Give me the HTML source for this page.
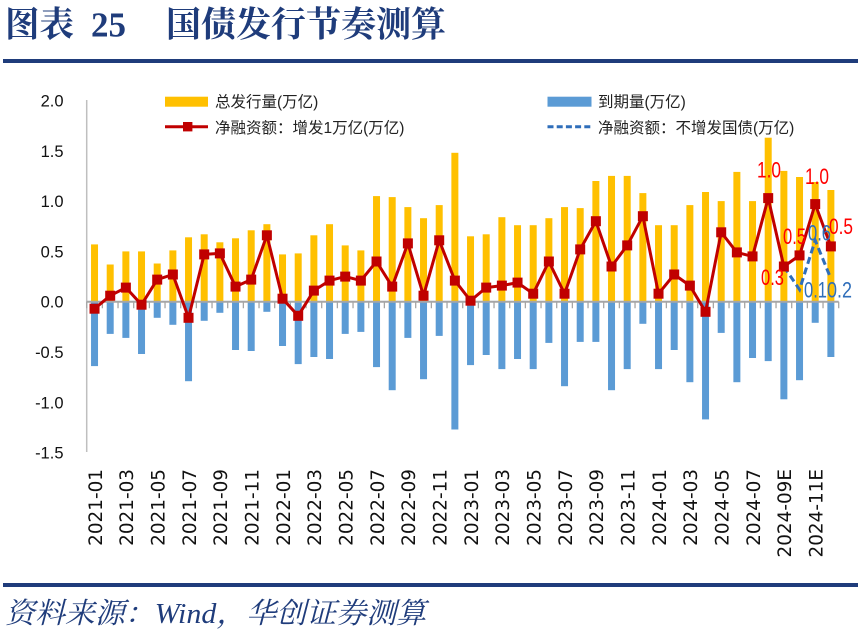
<!DOCTYPE html>
<html><head><meta charset="utf-8"><style>
html,body{margin:0;padding:0;background:#fff;}
svg{display:block;}
</style></head><body>
<svg width="867" height="643" viewBox="0 0 867 643" xmlns="http://www.w3.org/2000/svg">
<rect width="867" height="643" fill="#fff"/>
<!-- Title -->
<g fill="#1F3C7B" font-weight="bold">
<text x="5" y="36.5" font-size="35" font-family="'Noto Serif CJK SC', serif" textLength="69" lengthAdjust="spacingAndGlyphs">图表</text>
<text x="91" y="36.5" font-size="35" font-family="'Liberation Serif', serif">25</text>
<text x="166" y="36.5" font-size="35" font-family="'Noto Serif CJK SC', serif" textLength="280" lengthAdjust="spacingAndGlyphs">国债发行节奏测算</text>
</g>
<rect x="3" y="59" width="855" height="4" fill="#1F3C7B"/>
<rect x="3" y="583" width="855" height="4" fill="#1F3C7B"/>
<text x="5" y="623" font-size="29" font-style="italic" fill="#1F3C7B" font-family="'Liberation Serif', 'Noto Serif CJK SC', serif" textLength="421" lengthAdjust="spacingAndGlyphs">资料来源：Wind，华创证券测算</text>

<!-- Legend -->
<rect x="165" y="96.7" width="43" height="10" fill="#FFC000"/>
<text x="215" y="107" font-size="15.5" fill="#222" font-family="'Liberation Sans','Noto Sans CJK SC',sans-serif">总发行量(万亿)</text>
<line x1="165" y1="126.7" x2="208" y2="126.7" stroke="#C00000" stroke-width="3"/>
<rect x="183" y="122" width="9.4" height="9.4" fill="#C00000"/>
<text x="215" y="133" font-size="15.5" fill="#222" font-family="'Liberation Sans','Noto Sans CJK SC',sans-serif">净融资额：增发1万亿(万亿)</text>
<rect x="547.5" y="96.7" width="44" height="10" fill="#5B9BD5"/>
<text x="598" y="107" font-size="15.5" fill="#222" font-family="'Liberation Sans','Noto Sans CJK SC',sans-serif">到期量(万亿)</text>
<line x1="547.5" y1="126.7" x2="592" y2="126.7" stroke="#2F6EBA" stroke-width="3" stroke-dasharray="6,3.2"/>
<text x="598" y="133" font-size="15.5" fill="#222" font-family="'Liberation Sans','Noto Sans CJK SC',sans-serif">净融资额：不增发国债(万亿)</text>

<!-- Y axis labels -->
<g font-size="16.5" fill="#111" font-family="'Liberation Sans',sans-serif" text-anchor="end">
<text x="63.5" y="106.5">2.0</text>
<text x="63.5" y="156.8">1.5</text>
<text x="63.5" y="207.1">1.0</text>
<text x="63.5" y="257.4">0.5</text>
<text x="63.5" y="307.7">0.0</text>
<text x="63.5" y="358">-0.5</text>
<text x="63.5" y="408.3">-1.0</text>
<text x="63.5" y="458.6">-1.5</text>
</g>
<line x1="86.7" y1="100" x2="86.7" y2="452" stroke="#BFBFBF" stroke-width="1.5"/>

<!-- Yellow bars -->
<g fill="#FFC000">
<rect x="91.03" y="244.4" width="7" height="57.3"/>
<rect x="106.70" y="264.5" width="7" height="37.2"/>
<rect x="122.37" y="251.4" width="7" height="50.3"/>
<rect x="138.03" y="251.4" width="7" height="50.3"/>
<rect x="153.70" y="263.5" width="7" height="38.2"/>
<rect x="169.37" y="250.4" width="7" height="51.3"/>
<rect x="185.03" y="237.3" width="7" height="64.4"/>
<rect x="200.70" y="234.3" width="7" height="67.4"/>
<rect x="216.37" y="242.3" width="7" height="59.4"/>
<rect x="232.03" y="238.3" width="7" height="63.4"/>
<rect x="247.70" y="230.3" width="7" height="71.4"/>
<rect x="263.37" y="224.2" width="7" height="77.5"/>
<rect x="279.03" y="254.4" width="7" height="47.3"/>
<rect x="294.70" y="253.4" width="7" height="48.3"/>
<rect x="310.37" y="235.3" width="7" height="66.4"/>
<rect x="326.03" y="224.2" width="7" height="77.5"/>
<rect x="341.70" y="245.4" width="7" height="56.3"/>
<rect x="357.37" y="250.4" width="7" height="51.3"/>
<rect x="373.03" y="196.1" width="7" height="105.6"/>
<rect x="388.70" y="197.1" width="7" height="104.6"/>
<rect x="404.37" y="207.1" width="7" height="94.6"/>
<rect x="420.03" y="218.2" width="7" height="83.5"/>
<rect x="435.70" y="205.1" width="7" height="96.6"/>
<rect x="451.37" y="152.8" width="7" height="148.9"/>
<rect x="467.03" y="236.3" width="7" height="65.4"/>
<rect x="482.70" y="234.3" width="7" height="67.4"/>
<rect x="498.37" y="217.2" width="7" height="84.5"/>
<rect x="514.03" y="225.2" width="7" height="76.5"/>
<rect x="529.70" y="225.2" width="7" height="76.5"/>
<rect x="545.37" y="218.2" width="7" height="83.5"/>
<rect x="561.03" y="207.1" width="7" height="94.6"/>
<rect x="576.70" y="208.1" width="7" height="93.6"/>
<rect x="592.37" y="181.0" width="7" height="120.7"/>
<rect x="608.03" y="175.9" width="7" height="125.8"/>
<rect x="623.70" y="175.9" width="7" height="125.8"/>
<rect x="639.37" y="193.1" width="7" height="108.6"/>
<rect x="655.03" y="225.2" width="7" height="76.5"/>
<rect x="670.70" y="225.2" width="7" height="76.5"/>
<rect x="686.37" y="205.1" width="7" height="96.6"/>
<rect x="702.03" y="192.0" width="7" height="109.7"/>
<rect x="717.70" y="201.1" width="7" height="100.6"/>
<rect x="733.37" y="171.9" width="7" height="129.8"/>
<rect x="749.03" y="201.1" width="7" height="100.6"/>
<rect x="764.70" y="137.7" width="7" height="164.0"/>
<rect x="780.37" y="170.9" width="7" height="130.8"/>
<rect x="796.03" y="177.0" width="7" height="124.7"/>
<rect x="811.70" y="182.0" width="7" height="119.7"/>
<rect x="827.37" y="190.0" width="7" height="111.7"/>
</g>
<!-- Blue bars -->
<g fill="#5B9BD5">
<rect x="91.03" y="301.7" width="7" height="64.4"/>
<rect x="106.70" y="301.7" width="7" height="32.2"/>
<rect x="122.37" y="301.7" width="7" height="36.2"/>
<rect x="138.03" y="301.7" width="7" height="52.3"/>
<rect x="153.70" y="301.7" width="7" height="16.1"/>
<rect x="169.37" y="301.7" width="7" height="23.1"/>
<rect x="185.03" y="301.7" width="7" height="79.5"/>
<rect x="200.70" y="301.7" width="7" height="19.1"/>
<rect x="216.37" y="301.7" width="7" height="11.1"/>
<rect x="232.03" y="301.7" width="7" height="48.3"/>
<rect x="247.70" y="301.7" width="7" height="49.3"/>
<rect x="263.37" y="301.7" width="7" height="10.1"/>
<rect x="279.03" y="301.7" width="7" height="44.3"/>
<rect x="294.70" y="301.7" width="7" height="62.4"/>
<rect x="310.37" y="301.7" width="7" height="55.3"/>
<rect x="326.03" y="301.7" width="7" height="57.3"/>
<rect x="341.70" y="301.7" width="7" height="32.2"/>
<rect x="357.37" y="301.7" width="7" height="30.2"/>
<rect x="373.03" y="301.7" width="7" height="65.4"/>
<rect x="388.70" y="301.7" width="7" height="88.5"/>
<rect x="404.37" y="301.7" width="7" height="36.2"/>
<rect x="420.03" y="301.7" width="7" height="77.5"/>
<rect x="435.70" y="301.7" width="7" height="34.2"/>
<rect x="451.37" y="301.7" width="7" height="127.8"/>
<rect x="467.03" y="301.7" width="7" height="63.4"/>
<rect x="482.70" y="301.7" width="7" height="53.3"/>
<rect x="498.37" y="301.7" width="7" height="67.4"/>
<rect x="514.03" y="301.7" width="7" height="57.3"/>
<rect x="529.70" y="301.7" width="7" height="67.4"/>
<rect x="545.37" y="301.7" width="7" height="41.2"/>
<rect x="561.03" y="301.7" width="7" height="84.5"/>
<rect x="576.70" y="301.7" width="7" height="40.2"/>
<rect x="592.37" y="301.7" width="7" height="40.2"/>
<rect x="608.03" y="301.7" width="7" height="88.5"/>
<rect x="623.70" y="301.7" width="7" height="67.4"/>
<rect x="639.37" y="301.7" width="7" height="22.1"/>
<rect x="655.03" y="301.7" width="7" height="67.4"/>
<rect x="670.70" y="301.7" width="7" height="48.3"/>
<rect x="686.37" y="301.7" width="7" height="80.5"/>
<rect x="702.03" y="301.7" width="7" height="117.7"/>
<rect x="717.70" y="301.7" width="7" height="31.2"/>
<rect x="733.37" y="301.7" width="7" height="80.5"/>
<rect x="749.03" y="301.7" width="7" height="56.3"/>
<rect x="764.70" y="301.7" width="7" height="59.4"/>
<rect x="780.37" y="301.7" width="7" height="97.6"/>
<rect x="796.03" y="301.7" width="7" height="78.5"/>
<rect x="811.70" y="301.7" width="7" height="21.1"/>
<rect x="827.37" y="301.7" width="7" height="55.3"/>
</g>

<!-- Zero axis and ticks -->
<line x1="86.7" y1="301.7" x2="838.7" y2="301.7" stroke="#A6A6A6" stroke-width="2"/>
<path stroke="#A6A6A6" stroke-width="1.3" fill="none" d="M86.7 301.7v6.5M102.37 301.7v6.5M118.03 301.7v6.5M133.7 301.7v6.5M149.37 301.7v6.5M165.03 301.7v6.5M180.7 301.7v6.5M196.37 301.7v6.5M212.03 301.7v6.5M227.7 301.7v6.5M243.37 301.7v6.5M259.03 301.7v6.5M274.7 301.7v6.5M290.37 301.7v6.5M306.03 301.7v6.5M321.7 301.7v6.5M337.37 301.7v6.5M353.03 301.7v6.5M368.7 301.7v6.5M384.37 301.7v6.5M400.03 301.7v6.5M415.7 301.7v6.5M431.37 301.7v6.5M447.03 301.7v6.5M462.7 301.7v6.5M478.37 301.7v6.5M494.03 301.7v6.5M509.7 301.7v6.5M525.37 301.7v6.5M541.03 301.7v6.5M556.7 301.7v6.5M572.37 301.7v6.5M588.03 301.7v6.5M603.7 301.7v6.5M619.37 301.7v6.5M635.03 301.7v6.5M650.7 301.7v6.5M666.37 301.7v6.5M682.03 301.7v6.5M697.7 301.7v6.5M713.37 301.7v6.5M729.03 301.7v6.5M744.7 301.7v6.5M760.37 301.7v6.5M776.03 301.7v6.5M791.7 301.7v6.5M807.37 301.7v6.5M823.03 301.7v6.5M838.7 301.7v6.5"/>

<!-- Red line -->
<polyline fill="none" stroke="#C00000" stroke-width="3" stroke-linejoin="round" points="94.53,308.7 110.20,295.7 125.87,287.6 141.53,304.7 157.20,279.6 172.87,274.5 188.53,317.8 204.20,254.4 219.87,253.4 235.53,286.6 251.20,279.6 266.87,235.3 282.53,298.7 298.20,315.8 313.87,290.6 329.53,280.6 345.20,276.6 360.87,280.6 376.53,261.5 392.20,286.6 407.87,243.4 423.53,295.7 439.20,240.3 454.87,280.6 470.53,300.7 486.20,287.6 501.87,285.6 517.53,282.6 533.20,293.7 548.87,261.5 564.53,293.7 580.20,249.4 595.87,221.2 611.53,266.5 627.20,245.4 642.87,216.2 658.53,293.7 674.20,274.5 689.87,285.6 705.53,311.8 721.20,232.3 736.87,252.4 752.53,256.4 768.20,198.1 783.87,266.5 799.53,255.4 815.20,204.1 830.87,246.4"/>
<!-- Dashed line -->
<polyline fill="none" stroke="#2F6EBA" stroke-width="3" stroke-dasharray="7,4" points="783.87,266.5 799.53,289.6 815.20,240.3 830.87,278.6"/>
<!-- Markers -->
<g fill="#C00000">
<rect x="89.53" y="303.7" width="10" height="10"/>
<rect x="105.20" y="290.7" width="10" height="10"/>
<rect x="120.87" y="282.6" width="10" height="10"/>
<rect x="136.53" y="299.7" width="10" height="10"/>
<rect x="152.20" y="274.6" width="10" height="10"/>
<rect x="167.87" y="269.5" width="10" height="10"/>
<rect x="183.53" y="312.8" width="10" height="10"/>
<rect x="199.20" y="249.4" width="10" height="10"/>
<rect x="214.87" y="248.4" width="10" height="10"/>
<rect x="230.53" y="281.6" width="10" height="10"/>
<rect x="246.20" y="274.6" width="10" height="10"/>
<rect x="261.87" y="230.3" width="10" height="10"/>
<rect x="277.53" y="293.7" width="10" height="10"/>
<rect x="293.20" y="310.8" width="10" height="10"/>
<rect x="308.87" y="285.6" width="10" height="10"/>
<rect x="324.53" y="275.6" width="10" height="10"/>
<rect x="340.20" y="271.6" width="10" height="10"/>
<rect x="355.87" y="275.6" width="10" height="10"/>
<rect x="371.53" y="256.5" width="10" height="10"/>
<rect x="387.20" y="281.6" width="10" height="10"/>
<rect x="402.87" y="238.4" width="10" height="10"/>
<rect x="418.53" y="290.7" width="10" height="10"/>
<rect x="434.20" y="235.3" width="10" height="10"/>
<rect x="449.87" y="275.6" width="10" height="10"/>
<rect x="465.53" y="295.7" width="10" height="10"/>
<rect x="481.20" y="282.6" width="10" height="10"/>
<rect x="496.87" y="280.6" width="10" height="10"/>
<rect x="512.53" y="277.6" width="10" height="10"/>
<rect x="528.20" y="288.7" width="10" height="10"/>
<rect x="543.87" y="256.5" width="10" height="10"/>
<rect x="559.53" y="288.7" width="10" height="10"/>
<rect x="575.20" y="244.4" width="10" height="10"/>
<rect x="590.87" y="216.2" width="10" height="10"/>
<rect x="606.53" y="261.5" width="10" height="10"/>
<rect x="622.20" y="240.4" width="10" height="10"/>
<rect x="637.87" y="211.2" width="10" height="10"/>
<rect x="653.53" y="288.7" width="10" height="10"/>
<rect x="669.20" y="269.5" width="10" height="10"/>
<rect x="684.87" y="280.6" width="10" height="10"/>
<rect x="700.53" y="306.8" width="10" height="10"/>
<rect x="716.20" y="227.3" width="10" height="10"/>
<rect x="731.87" y="247.4" width="10" height="10"/>
<rect x="747.53" y="251.4" width="10" height="10"/>
<rect x="763.20" y="193.1" width="10" height="10"/>
<rect x="778.87" y="261.5" width="10" height="10"/>
<rect x="794.53" y="250.4" width="10" height="10"/>
<rect x="810.20" y="199.1" width="10" height="10"/>
<rect x="825.87" y="241.4" width="10" height="10"/>
</g>

<!-- Data labels -->
<g font-size="22" font-family="'Liberation Sans',sans-serif">
<text x="757" y="177.5" fill="#FF0000" textLength="24" lengthAdjust="spacingAndGlyphs">1.0</text>
<text x="761" y="285" fill="#FF0000" textLength="23" lengthAdjust="spacingAndGlyphs">0.3</text>
<text x="783" y="244" fill="#FF0000" textLength="23" lengthAdjust="spacingAndGlyphs">0.5</text>
<text x="805" y="184" fill="#FF0000" textLength="24" lengthAdjust="spacingAndGlyphs">1.0</text>
<text x="829" y="234" fill="#FF0000" textLength="24" lengthAdjust="spacingAndGlyphs">0.5</text>
<text x="808" y="240.5" fill="#2F6EBA" textLength="23" lengthAdjust="spacingAndGlyphs">0.6</text>
<text x="804" y="297.5" fill="#2F6EBA" textLength="23" lengthAdjust="spacingAndGlyphs">0.1</text>
<text x="827" y="297.5" fill="#2F6EBA" textLength="25" lengthAdjust="spacingAndGlyphs">0.2</text>
</g>

<!-- X labels -->
<g font-size="18.4" fill="#111" font-family="'DejaVu Sans',sans-serif" text-anchor="end">
<text transform="translate(101.8,469) rotate(-90)">2021-01</text>
<text transform="translate(133.2,469) rotate(-90)">2021-03</text>
<text transform="translate(164.5,469) rotate(-90)">2021-05</text>
<text transform="translate(195.8,469) rotate(-90)">2021-07</text>
<text transform="translate(227.2,469) rotate(-90)">2021-09</text>
<text transform="translate(258.5,469) rotate(-90)">2021-11</text>
<text transform="translate(289.8,469) rotate(-90)">2022-01</text>
<text transform="translate(321.2,469) rotate(-90)">2022-03</text>
<text transform="translate(352.5,469) rotate(-90)">2022-05</text>
<text transform="translate(383.8,469) rotate(-90)">2022-07</text>
<text transform="translate(415.2,469) rotate(-90)">2022-09</text>
<text transform="translate(446.5,469) rotate(-90)">2022-11</text>
<text transform="translate(477.8,469) rotate(-90)">2023-01</text>
<text transform="translate(509.2,469) rotate(-90)">2023-03</text>
<text transform="translate(540.5,469) rotate(-90)">2023-05</text>
<text transform="translate(571.8,469) rotate(-90)">2023-07</text>
<text transform="translate(603.2,469) rotate(-90)">2023-09</text>
<text transform="translate(634.5,469) rotate(-90)">2023-11</text>
<text transform="translate(665.8,469) rotate(-90)">2024-01</text>
<text transform="translate(697.2,469) rotate(-90)">2024-03</text>
<text transform="translate(728.5,469) rotate(-90)">2024-05</text>
<text transform="translate(759.8,469) rotate(-90)">2024-07</text>
<text transform="translate(791.2,469) rotate(-90)">2024-09E</text>
<text transform="translate(822.5,469) rotate(-90)">2024-11E</text>
</g>
</svg>
</body></html>
